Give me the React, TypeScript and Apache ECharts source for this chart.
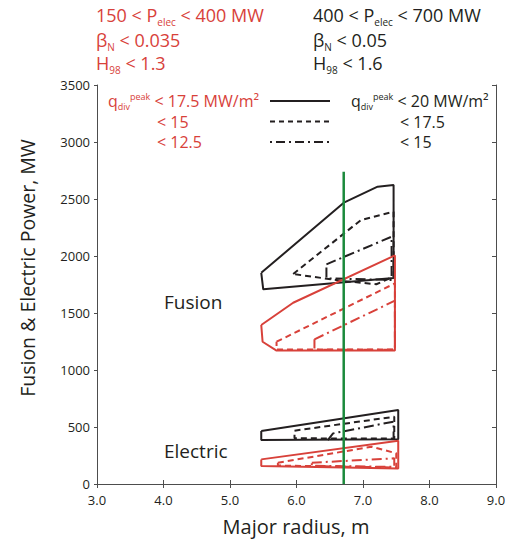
import React, { useEffect, useRef } from "react";
import * as echarts from "echarts";

// ---- data (x = major radius m, y = power MW) ----
const fusionBlackSolid = [[5.47, 1853], [6.72, 2471], [7.22, 2608], [7.46, 2623], [7.46, 1807], [5.5, 1708], [5.47, 1853]];
const fusionBlackDashed = [[5.95, 1842], [6.97, 2316], [7.46, 2389], [7.46, 1819], [7.2, 1752], [6.7, 1781], [5.95, 1842]];
const fusionBlackDashDot = [[6.45, 1927], [7.43, 2169], [7.43, 1790], [6.45, 1804], [6.45, 1927]];
const fusionRedSolid = [[5.47, 1395], [5.95, 1590], [7.48, 2005], [7.48, 1170], [5.7, 1170], [5.49, 1248], [5.47, 1395]];
const fusionRedDashed = [[5.7, 1248], [7.48, 1760], [7.48, 1180], [5.7, 1180], [5.7, 1248]];
const fusionRedDashDot = [[6.27, 1269], [7.48, 1608], [7.48, 1178], [6.27, 1178], [6.27, 1269]];

const elecBlackSolid = [[5.47, 465], [7.53, 649], [7.53, 392], [5.47, 386], [5.47, 465]];
const elecBlackDashed = [[5.97, 468], [7.47, 590], [7.47, 398], [5.97, 401], [5.97, 468]];
const elecBlackDashDot = [[6.47, 385], [6.55, 444], [7.46, 547], [7.46, 395]];
const elecRedSolid = [[5.47, 216], [7.53, 380], [7.53, 135], [5.47, 158], [5.47, 216]];
const elecRedDashed = [[5.72, 187], [7.13, 327], [7.5, 269], [7.5, 145], [5.72, 162], [5.72, 187]];
const elecRedDashDot = [[6.23, 187], [7.47, 225], [7.47, 150], [6.23, 160], [6.23, 187]];

const greenLine = [[6.71, 0], [6.71, 2740]];

const xTicks = [3, 4, 5, 6, 7, 8, 9];

const RED = "#d8413a";
const BLACK = "#231f20";
const GREEN = "#1b8a3c";
const FONT = "Open Sans";
const DASH = [6, 4];
const DASHDOT = [10, 4, 2, 4];

function poly(name: string, data: number[][], color: string, type: any, width = 2) {
  return {
    name,
    type: "line",
    data,
    symbol: "none",
    silent: true,
    lineStyle: { color, width, type },
    z: 3,
  };
}

// L = line height; sub/sup centres sit `off` px below/above the main-text centre
const subRich = (color: string, main: number, small: number, off: number) => {
  const L = 2 * off + small;
  return {
    m: { fontFamily: FONT, fontSize: main, color, lineHeight: L },
    sub: { fontFamily: FONT, fontSize: small, color, lineHeight: small, verticalAlign: "bottom", padding: [L - small, 0, 0, 0] },
    sup: { fontFamily: FONT, fontSize: small, color, lineHeight: small, verticalAlign: "top", padding: [0, 0, L - small, 0] },
  };
};

function richText(x: number, y: number, text: string, color: string, size: number, small: number, off: number) {
  return {
    type: "text",
    x,
    y,
    silent: true,
    style: {
      text,
      fill: color,
      font: `${size}px "${FONT}"`,
      verticalAlign: "middle",
      align: "left",
      rich: subRich(color, size, small, off),
    },
  };
}

export default function App() {
  const ref = useRef<HTMLDivElement>(null);
  useEffect(() => {
    const chart = echarts.init(ref.current!, null, { renderer: "svg" });
    const axisLine = { lineStyle: { color: "#4d4d4d", width: 1 } };
    chart.setOption({
      animation: false,
      backgroundColor: "#fff",
      grid: { left: 97, top: 85, width: 399, height: 399, containLabel: false },
      xAxis: [
        {
          type: "value",
          min: 3,
          max: 9,
          interval: 1,
          position: "bottom",
          axisLine: { show: true, ...axisLine },
          axisTick: { show: true, inside: true, length: 4, lineStyle: { color: "#4d4d4d" } },
          axisLabel: {
            color: BLACK,
            fontFamily: FONT,
            fontSize: 13,
            margin: 9,
            formatter: (v: number) => (xTicks.includes(v) ? v.toFixed(1) : ""),
          },
          splitLine: { show: false },
        },
        {
          type: "value",
          min: 3,
          max: 9,
          interval: 1,
          position: "top",
          axisLine: { show: true, ...axisLine },
          axisTick: { show: true, inside: true, length: 4, lineStyle: { color: "#4d4d4d" } },
          axisLabel: { show: false },
          splitLine: { show: false },
        },
      ],
      yAxis: [
        {
          type: "value",
          min: 0,
          max: 3500,
          interval: 500,
          position: "left",
          axisLine: { show: true, ...axisLine },
          axisTick: { show: true, inside: false, length: 3, lineStyle: { color: "#4d4d4d" } },
          axisLabel: { color: BLACK, fontFamily: FONT, fontSize: 13, margin: 7, formatter: (v: number) => String(v) },
          splitLine: { show: false },
        },
        {
          type: "value",
          min: 0,
          max: 3500,
          interval: 500,
          position: "right",
          axisLine: { show: true, ...axisLine },
          axisTick: { show: true, inside: true, length: 4, lineStyle: { color: "#4d4d4d" } },
          axisLabel: { show: false },
          splitLine: { show: false },
        },
      ],
      series: [
        poly("Fusion q<20", fusionBlackSolid, BLACK, "solid"),
        poly("Fusion q<17.5 black", fusionBlackDashed, BLACK, DASH),
        poly("Fusion q<15 black", fusionBlackDashDot, BLACK, DASHDOT),
        poly("Fusion q<17.5 red", fusionRedSolid, RED, "solid"),
        poly("Fusion q<15 red", fusionRedDashed, RED, DASH),
        poly("Fusion q<12.5 red", fusionRedDashDot, RED, DASHDOT),
        poly("Electric q<20", elecBlackSolid, BLACK, "solid"),
        poly("Electric q<17.5 black", elecBlackDashed, BLACK, DASH),
        poly("Electric q<15 black", elecBlackDashDot, BLACK, DASHDOT),
        poly("Electric q<17.5 red", elecRedSolid, RED, "solid"),
        poly("Electric q<15 red", elecRedDashed, RED, DASH),
        poly("Electric q<12.5 red", elecRedDashDot, RED, DASHDOT),
        { ...poly("R = 6.7 m", greenLine, GREEN, "solid", 2.5), z: 5 },
      ],
      graphic: [
        // header, red
        richText(96, 15, "{m|150 < P}{sub|elec}{m| < 400 MW}", RED, 18, 10, 6.5),
        richText(96, 40, "{m|β}{sub|N}{m| < 0.035}", RED, 18, 10, 6.5),
        richText(96, 63, "{m|H}{sub|98}{m| < 1.3}", RED, 18, 10, 6.5),
        // header, black
        richText(313, 15, "{m|400 < P}{sub|elec}{m| < 700 MW}", BLACK, 18, 10, 6.5),
        richText(313, 40, "{m|β}{sub|N}{m| < 0.05}", BLACK, 18, 10, 6.5),
        richText(313, 63, "{m|H}{sub|98}{m| < 1.6}", BLACK, 18, 10, 6.5),
        // legend texts
        richText(108, 101, "{m|q}{sub|div}{sup|peak}{m| < 17.5 MW/m²}", RED, 16, 9, 5),
        richText(157, 122, "{m|< 15}", RED, 16, 9, 5),
        richText(157, 142, "{m|< 12.5}", RED, 16, 9, 5),
        richText(351, 101, "{m|q}{sub|div}{sup|peak}{m| < 20 MW/m²}", BLACK, 16, 9, 5),
        richText(400, 122, "{m|< 17.5}", BLACK, 16, 9, 5),
        richText(400, 142, "{m|< 15}", BLACK, 16, 9, 5),
        // legend line samples
        { type: "line", silent: true, shape: { x1: 270, y1: 101, x2: 330, y2: 101 }, style: { stroke: BLACK, lineWidth: 2 } },
        { type: "line", silent: true, shape: { x1: 270, y1: 121.5, x2: 330, y2: 121.5 }, style: { stroke: BLACK, lineWidth: 2, lineDash: [5, 4] } },
        { type: "line", silent: true, shape: { x1: 270, y1: 142, x2: 330, y2: 142 }, style: { stroke: BLACK, lineWidth: 2, lineDash: [2, 4, 9, 4] } },
        // annotations
        { type: "text", x: 164, y: 302, silent: true, style: { text: "Fusion", fill: BLACK, font: `19px "${FONT}"`, verticalAlign: "middle", align: "left" } },
        { type: "text", x: 164, y: 451, silent: true, style: { text: "Electric", fill: BLACK, font: `19px "${FONT}"`, verticalAlign: "middle", align: "left" } },
        // axis titles
        { type: "text", x: 296, y: 526, silent: true, style: { text: "Major radius, m", fill: BLACK, font: `20px "${FONT}"`, verticalAlign: "middle", align: "center" } },
        { type: "text", x: 27, y: 268, rotation: Math.PI / 2, silent: true, style: { text: "Fusion & Electric Power, MW", fill: BLACK, font: `19.5px "${FONT}"`, verticalAlign: "middle", align: "center" } },
      ],
    });
    return () => chart.dispose();
  }, []);
  return <div ref={ref} style={{ width: 512, height: 541, position: "absolute", left: 0, top: 0 }} />;
}
